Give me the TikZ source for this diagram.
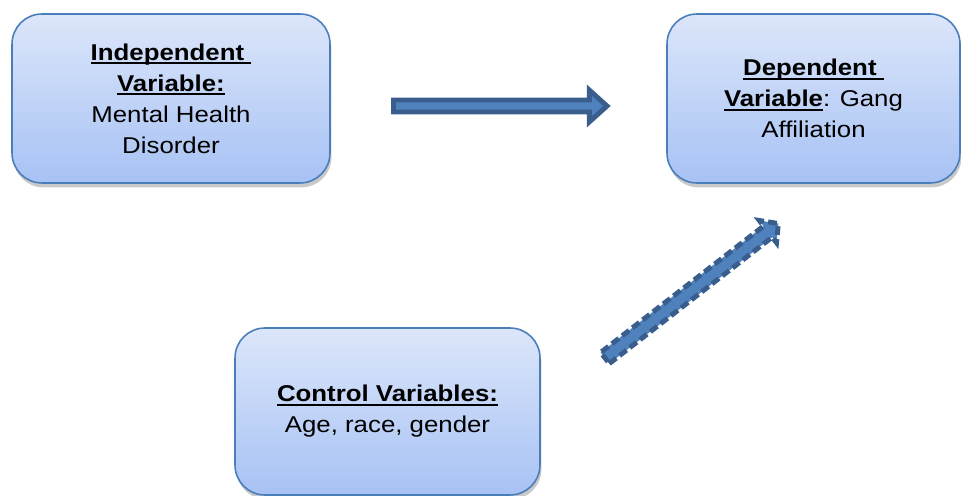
\documentclass[tikz,border=0pt]{standalone}
\usepackage{fontspec}
\setmainfont{Liberation Sans}[FakeStretch=1.13]
\usetikzlibrary{calc,shadows}

\definecolor{boxtop}{HTML}{DCE6FA}
\definecolor{boxbot}{HTML}{A7C2F4}
\definecolor{boxline}{HTML}{4A7EBB}
\definecolor{arrowfill}{HTML}{4F81BD}
\definecolor{arrowline}{HTML}{395E8D}

% thicker underline for the box titles
\newcommand\thickul[1]{\setbox0=\hbox{#1}\rlap{\rule[-2.4pt]{\wd0}{1.2pt}}\box0}
% block arrow between two named coordinates: (from)(to)(half shaft:half head:head length)
\def\blockarrow[#1](#2)(#3)(#4:#5:#6){\draw[#1] let \p1=($(#3)-(#2)$), \n1={atan2(\y1,\x1)}, \n2={veclen(\x1,\y1)} in [shift={(#2)}, rotate=\n1] (0pt,-#4) -- (\n2-#6,-#4) -- (\n2-#6,-#5) -- (\n2,0pt) -- (\n2-#6,#5) -- (\n2-#6,#4) -- (0pt,#4) -- cycle;}

\tikzset{
  varbox/.style={draw=boxline, line width=0.9pt, rounded corners=17pt,
    top color=boxtop, bottom color=boxbot, align=center,
    font=\fontsize{13}{17.6}\selectfont,
    drop shadow={shadow xshift=0.8pt, shadow yshift=-2.5pt, opacity=0.3, fill=black!70}},
  blockline/.style={fill=arrowfill, draw=arrowline, line width=2.8pt, line join=miter},
  dashline/.style={blockline, dash pattern=on 5pt off 2.4pt}
}

\begin{document}
\begin{tikzpicture}[x=0.02cm, y=-0.02cm]
			%%%%% START %%%%%
			\useasboundingbox (0, 0) rectangle (961, 496);
			
			\node[varbox, minimum width=6.36cm, minimum height=3.38cm] (indep) at (171, 98.5)
				{\thickul{\textbf{Independent~}}\\ \thickul{\textbf{Variable:}}\\ Mental Health\\ Disorder};
			\node[varbox, minimum width=5.86cm, minimum height=3.38cm] (dep) at (813.5, 98.5)
				{\thickul{\textbf{Dependent~}}\\ \thickul{\textbf{Variable}}: Gang\\ Affiliation};
			\node[varbox, minimum width=6.1cm, minimum height=3.34cm] (ctrl) at (387.5, 411.5)
				{\thickul{\textbf{Control Variables:}}\\ Age, race, gender};
			
			\coordinate (indepout) at (393.5, 106);
			\coordinate (depin) at (607, 106);
			\blockarrow[blockline](indepout)(depin)(3.4pt:9pt:10pt)
			
			\coordinate (ctrlout) at (605, 358);
			\coordinate (depdown) at (779, 223);
			\blockarrow[dashline](ctrlout)(depdown)(4pt:8pt:7.5pt)
			
			%%%%% END %%%%%
\end{tikzpicture}
\end{document}
